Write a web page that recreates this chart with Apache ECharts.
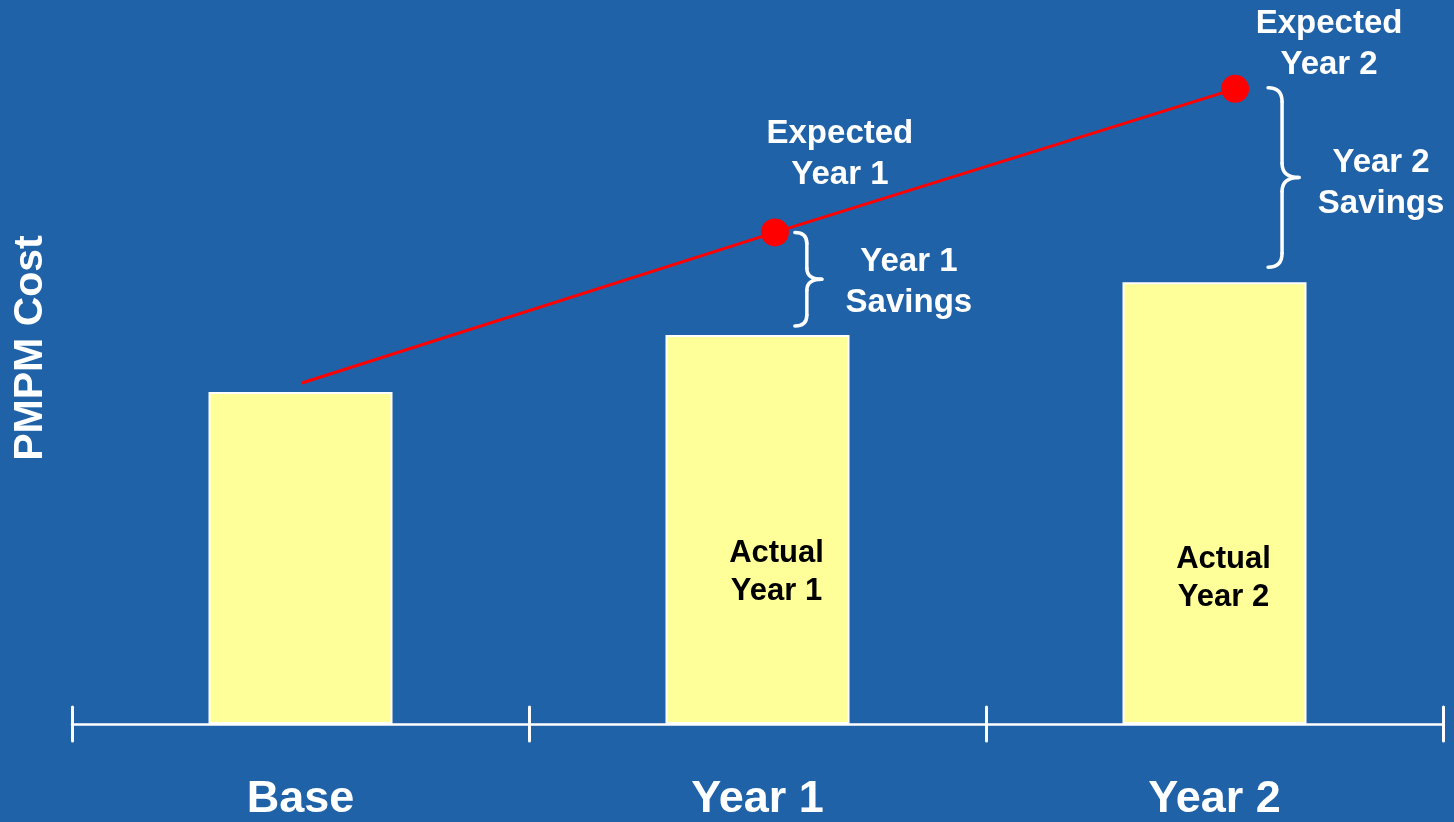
<!DOCTYPE html>
<html>
<head>
<meta charset="utf-8">
<script src="https://cdn.jsdelivr.net/npm/echarts@6/dist/echarts.min.js"></script>
<style>
html,body{margin:0;padding:0;background:#2062a8;}
#chart{width:1454px;height:822px;}
</style>
</head>
<body>
<div id="chart"></div>
<script>
// ---- data ----
const categories = ['Base', 'Year 1', 'Year 2'];
const actualCost = [333, 390, 443];            // bar heights (PMPM cost, arbitrary units)
const expectedCost = [342, 493, 637];          // expected trend line
const expectedX = [0.503, 1.538, 2.545];       // horizontal placement of trend points (category units)
const expectedLabels = ['', 'Expected\nYear 1', 'Expected\nYear 2'];
const actualLabels = ['', 'Actual\nYear 1', 'Actual\nYear 2'];
const savingsLabels = ['Year 1\nSavings', 'Year 2\nSavings'];
const yAxisTitle = 'PMPM Cost';

// ---- styles ----
const FONT = '"Liberation Sans", Arial, Helvetica, sans-serif';
const BG = '#2062a8';
const expLabelOffset = [null, [65, -78], [94, -44]];
const actLabelPos = [null, [111, 237], [101, 296]];
const braceStyle = [
  {dx: 20, stem: 12, w: 27, t: 0, b: 9, r: 11, tx: 87, ty: 3},
  {dx: 33, stem: 14, w: 31, t: -1, b: 15, r: 14, tx: 82, ty: 6}
];

const chart = echarts.init(document.getElementById('chart'));

const barData = actualCost.map((v, i) => {
  const item = {value: v};
  if (actualLabels[i]) {
    item.label = {
      show: true, formatter: actualLabels[i], position: actLabelPos[i],
      align: 'center', verticalAlign: 'middle',
      color: '#000', fontSize: 31, fontWeight: 'bold', fontFamily: FONT, lineHeight: 38
    };
  }
  return item;
});

const lineData = expectedCost.map((v, i) => {
  const item = {value: [expectedX[i], v]};
  if (i === 0) { item.symbol = 'none'; }
  if (expectedLabels[i]) {
    item.label = {
      show: true, formatter: expectedLabels[i], position: 'inside',
      offset: expLabelOffset[i], align: 'center', verticalAlign: 'middle',
      color: '#fff', fontSize: 33, fontWeight: 'bold', fontFamily: FONT, lineHeight: 41
    };
  }
  return item;
});

const braceData = [1, 2].map(i => [expectedX[i], expectedCost[i], actualCost[i]]);

function renderBrace(params, api) {
  const i = params.dataIndex;
  const st = braceStyle[i];
  const top = api.coord([api.value(0), api.value(1)]);
  const bot = api.coord([api.value(0), api.value(2)]);
  const x0 = top[0] + st.dx, xv = x0 + st.stem, xt = x0 + st.w;
  const y0 = top[1] + st.t, y1 = bot[1] - st.b, ym = (y0 + y1) / 2, r = st.r;
  const ls = {stroke: '#fff', lineWidth: 3.5, fill: null, lineCap: 'round'};
  return {
    type: 'group',
    children: [
      {type: 'bezierCurve', shape: {x1: x0, y1: y0, x2: xv, y2: y0 + r, cpx1: xv, cpy1: y0}, style: ls},
      {type: 'line', shape: {x1: xv, y1: y0 + r, x2: xv, y2: ym - r}, style: ls},
      {type: 'bezierCurve', shape: {x1: xv, y1: ym - r, x2: xt, y2: ym, cpx1: xv, cpy1: ym}, style: ls},
      {type: 'bezierCurve', shape: {x1: xt, y1: ym, x2: xv, y2: ym + r, cpx1: xv, cpy1: ym}, style: ls},
      {type: 'line', shape: {x1: xv, y1: ym + r, x2: xv, y2: y1 - r}, style: ls},
      {type: 'bezierCurve', shape: {x1: xv, y1: y1 - r, x2: x0, y2: y1, cpx1: xv, cpy1: y1}, style: ls},
      {type: 'text', x: xt + st.tx, y: ym + st.ty,
       style: {text: savingsLabels[i], fill: '#fff', fontSize: 33, fontWeight: 'bold',
               fontFamily: FONT, align: 'center', verticalAlign: 'middle', lineHeight: 41}}
    ]
  };
}

const option = {
  backgroundColor: BG,
  animation: false,
  grid: {left: 72, right: 11, top: 26, bottom: 96, containLabel: false},
  xAxis: [
    {
      type: 'category', data: categories, boundaryGap: true,
      axisLine: {show: true, lineStyle: {color: '#fff', width: 2.5}},
      axisTick: {show: true, inside: true, length: 17, lineStyle: {color: '#fff', width: 3, cap: 'round'}},
      axisLabel: {show: true, color: '#fff', fontSize: 45, fontWeight: 'bold', fontFamily: FONT, margin: 53},
      splitLine: {show: false}
    },
    {
      type: 'category', data: categories, boundaryGap: true, position: 'bottom',
      axisLine: {show: false},
      axisTick: {show: true, inside: false, length: 17, lineStyle: {color: '#fff', width: 3, cap: 'round'}},
      axisLabel: {show: false},
      splitLine: {show: false}
    },
    {type: 'value', min: 0, max: 3, show: false}
  ],
  yAxis: {type: 'value', min: 0, max: 700, show: false, splitLine: {show: false}},
  graphic: [
    {type: 'text', x: 31, y: 348, rotation: Math.PI / 2,
     style: {text: yAxisTitle, fill: '#fff', fontSize: 41, fontWeight: 'bold', fontFamily: FONT,
             align: 'center', verticalAlign: 'middle'}}
  ],
  series: [
    {
      type: 'bar', xAxisIndex: 0, data: barData, barWidth: 184,
      itemStyle: {color: '#ffff99', borderColor: '#fff', borderWidth: 2},
      z: 2
    },
    {
      type: 'line', xAxisIndex: 2, data: lineData, symbol: 'circle', symbolSize: 28,
      lineStyle: {color: '#ff0000', width: 3}, itemStyle: {color: '#ff0000'},
      z: 4
    },
    {
      type: 'custom', xAxisIndex: 2, data: braceData, renderItem: renderBrace, z: 5, clip: false
    }
  ]
};
chart.setOption(option);
</script>
</body>
</html>
